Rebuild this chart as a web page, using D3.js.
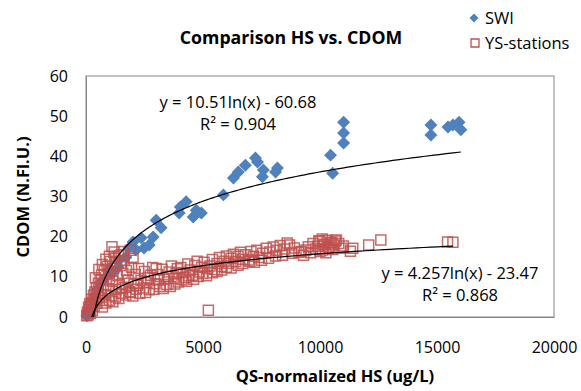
<!DOCTYPE html>
<html>
<head>
<meta charset="utf-8">
<script src="https://cdn.jsdelivr.net/npm/d3@7"></script>
<style>
  body { margin: 0; background: #fff; }
  text { font-family: "Open Sans", sans-serif; fill: #000; }
</style>
</head>
<body>
<div id="app"></div>
<script>
const width = 581
const height = 391

// SWI samples [HS, CDOM]
const swiPoints = [
  [40, 0.3], [100, 1], [200, 2], [300, 4], [400, 5.5], [500, 7], [600, 8.5],
  [730, 9.2], [860, 10], [1000, 12], [1160, 11], [1370, 12.4], [1410, 14.2],
  [1710, 14.9], [1840, 17.2], [2010, 18.7], [2140, 16.7], [2360, 19.7],
  [2480, 17.2], [2700, 17.9], [2870, 19.9], [3000, 24.1], [3210, 22.2],
  [3980, 25.9], [4030, 27.4], [4280, 28.7], [4580, 24.9], [4710, 26.6],
  [4930, 25.9], [5870, 30.4], [6300, 34.6], [6510, 36.1], [6810, 37.8],
  [7240, 39.6], [7330, 38.6], [7540, 34.9], [7580, 36.6], [8100, 36.1],
  [8180, 37.1], [10450, 40.3], [10540, 35.8], [11010, 48.5], [11010, 45.8],
  [11010, 43.3], [14740, 47.8], [14740, 45.3], [15470, 47.3], [15680, 47.8],
  [15940, 48.5], [16020, 46.6]
]

// YS-stations samples [HS, CDOM]
const ysPoints = [
  [30, 0.3], [60, 1.2], [90, 0.5], [110, 2.4], [140, 1.8], [160, 3.3], [190, 0.9],
  [210, 2.8], [240, 4.4], [270, 1.6], [290, 3.6], [320, 5.4], [350, 2.6], [380, 6.2],
  [400, 9.8], [410, 4.2], [440, 7.3], [470, 3.4], [500, 5.8], [530, 8.4], [550, 11.8],
  [560, 4.8], [600, 9.2], [630, 6.6], [670, 10.4], [700, 4.1], [700, 2.5], [700, 13.1],
  [740, 7.8], [780, 11.5], [820, 5.6], [850, 3.5], [850, 14.4], [860, 9.3],
  [900, 12.6], [950, 7.1], [990, 10.7], [1000, 4.2], [1000, 15.1], [1040, 13.8],
  [1080, 5.3], [1110, 17.5], [1130, 8.9], [1150, 3.8], [1180, 12.1], [1200, 16.2],
  [1230, 14.6], [1250, 5], [1280, 6.8], [1300, 13.5], [1330, 10.3], [1380, 15.2],
  [1400, 4.6], [1430, 8.1], [1480, 12.8], [1500, 15.5], [1530, 5.9], [1550, 7.2],
  [1580, 10.9], [1600, 16.3], [1630, 14.1], [1680, 7.4], [1700, 5.5], [1730, 11.6],
  [1800, 9.2], [1850, 6.3], [1890, 16.6], [1900, 6.1], [1950, 12.4], [2000, 5.2],
  [2010, 14.6], [2050, 8.4], [2100, 10.6], [2150, 6.9], [2200, 7.9], [2250, 12.1],
  [2300, 5.9], [2350, 9.1], [2450, 7.2], [2500, 11.3], [2550, 6.1], [2600, 8.6],
  [2650, 9.7], [2700, 6.8], [2750, 10.4], [2850, 12.3], [2900, 6.9], [2950, 8.3],
  [3000, 12.1], [3050, 10.6], [3100, 9.2], [3150, 7.6], [3250, 11.9], [3300, 7.1],
  [3350, 9.4], [3450, 8.1], [3500, 10.1], [3550, 11.2], [3600, 7.6], [3650, 12.7],
  [3750, 9.6], [3800, 8.2], [3850, 10.9], [3900, 12], [3950, 8.7], [4050, 12.3],
  [4100, 9.3], [4150, 11.1], [4250, 9.8], [4300, 8.9], [4350, 13.2], [4400, 10.2],
  [4450, 11.7], [4550, 10.4], [4600, 9.4], [4650, 12.8], [4750, 13.9], [4800, 10.1],
  [4850, 11.2], [4950, 12.4], [5000, 10.8], [5050, 13.6], [5150, 10.3], [5200, 12.1],
  [5230, 1.7], [5300, 12.7], [5400, 14.3], [5400, 11], [5500, 11.8], [5600, 13.3],
  [5600, 11.3], [5700, 14.8], [5800, 12.6], [5800, 11.7], [5900, 13.9], [6000, 15.2],
  [6000, 12.4], [6100, 13.4], [6200, 14.6], [6200, 12.2], [6300, 15.6], [6400, 13.8],
  [6500, 15.1], [6500, 12.9], [6600, 16.1], [6700, 14.4], [6700, 13.3], [6800, 15.5],
  [6950, 14.2], [7000, 13.8], [7050, 16.3], [7150, 15.1], [7200, 13.6], [7300, 16.6],
  [7400, 14.8], [7500, 14.1], [7550, 15.9], [7700, 17.1], [7800, 14.6], [7850, 16.2],
  [8000, 17.4], [8100, 15.2], [8150, 16.6], [8300, 17.8], [8400, 15.4], [8500, 16.9],
  [8600, 18.4], [8700, 17.9], [8800, 15.9], [8900, 17.2], [9100, 16.1], [9200, 16.3],
  [9300, 15.4], [9400, 16.7], [9500, 17.5], [9600, 16], [9700, 18.3], [9800, 16.9],
  [9900, 17.6], [9950, 19], [10000, 18.8], [10000, 16.3], [10100, 16.7], [10100, 19.4],
  [10150, 17.9], [10200, 18.1], [10250, 16], [10300, 19.1], [10350, 17.2],
  [10400, 17.4], [10450, 18.4], [10500, 18.6], [10550, 16.8], [10600, 17.9],
  [10650, 18.9], [10700, 19.2], [10800, 18.3], [10900, 17.1], [11000, 17.7],
  [11300, 16.4], [11400, 17.1], [12080, 17.9], [12600, 19.2], [15450, 18.7],
  [15680, 18.6]
]

// log trendlines: y = a ln(x) + b
const swiFit = {a: 10.51, b: -60.68, label: 'y = 10.51ln(x) - 60.68', r2: 'R² = 0.904'}
const ysFit = {a: 4.257, b: -23.47, label: 'y = 4.257ln(x) - 23.47', r2: 'R² = 0.868'}

const xTicks = [0, 5000, 10000, 15000, 20000]
const yTicks = [0, 10, 20, 30, 40, 50, 60]
const seriesNames = ['SWI', 'YS-stations']

const blue = '#4f81bd'
const red = '#c0504d'
const axisGrey = '#868686'

const plot = {left: 86, right: 554, top: 76, bottom: 317}

const x = d3.scaleLinear().domain([0, 20000]).range([plot.left, plot.right])
const y = d3.scaleLinear().domain([0, 60]).range([plot.bottom, plot.top])

const svg = d3.select('#app').append('svg')
  .attr('width', width)
  .attr('height', height)

svg.append('defs').append('clipPath').attr('id', 'plotClip')
  .append('rect')
  .attr('x', plot.left).attr('y', plot.top)
  .attr('width', plot.right - plot.left).attr('height', plot.bottom - plot.top)

// plot area frame
svg.append('rect')
  .attr('x', plot.left).attr('y', plot.top)
  .attr('width', plot.right - plot.left).attr('height', plot.bottom - plot.top)
  .attr('fill', 'none').attr('stroke', axisGrey).attr('stroke-width', 1)

const xAxis = svg.append('g')
  .attr('transform', `translate(0,${plot.bottom})`)
  .call(d3.axisBottom(x).tickValues(xTicks).tickSize(0).tickPadding(25).tickFormat(d3.format('d')))
const yAxis = svg.append('g')
  .attr('transform', `translate(${plot.left},0)`)
  .call(d3.axisLeft(y).tickValues(yTicks).tickSize(0).tickPadding(18))
for (const g of [xAxis, yAxis]) {
  g.select('.domain').attr('stroke', axisGrey)
  g.selectAll('text').attr('font-size', 16).attr('font-family', '"Open Sans", sans-serif').attr('fill', '#000')
}

// markers
const diamond = d3.symbol().type(d3.symbolSquare).size(84)
const square = d3.symbol().type(d3.symbolSquare).size(100)

svg.append('g').selectAll('path')
  .data(swiPoints)
  .join('path')
  .attr('d', diamond)
  .attr('transform', (d) => `translate(${x(d[0])},${y(d[1])}) rotate(45)`)
  .attr('fill', blue)

svg.append('g').selectAll('path')
  .data(ysPoints)
  .join('path')
  .attr('d', square)
  .attr('transform', (d) => `translate(${x(d[0])},${y(d[1])})`)
  .attr('fill', 'none')
  .attr('stroke', red)
  .attr('stroke-width', 1.5)
  .attr('stroke-opacity', 0.85)

// trendlines
const line = d3.line().x((d) => x(d[0])).y((d) => y(d[1]))
const trend = (pts, fit) => {
  const [x0, x1] = d3.extent(pts, (d) => d[0])
  return d3.range(0, 301).map((i) => {
    const v = x0 * Math.pow(x1 / x0, i / 300)
    return [v, fit.a * Math.log(v) + fit.b]
  })
}
const trends = svg.append('g').attr('clip-path', 'url(#plotClip)')
for (const [pts, fit] of [[swiPoints, swiFit], [ysPoints, ysFit]]) {
  trends.append('path')
    .attr('d', line(trend(pts, fit)))
    .attr('fill', 'none')
    .attr('stroke', '#000')
    .attr('stroke-width', 1.2)
}

// equation labels
const eq = [[swiFit, 238, 108], [ysFit, 460, 279]]
for (const [fit, cx, cy] of eq) {
  svg.append('text').attr('x', cx).attr('y', cy).attr('text-anchor', 'middle')
    .attr('font-size', 16.5).text(fit.label)
  svg.append('text').attr('x', cx).attr('y', cy + 22).attr('text-anchor', 'middle')
    .attr('font-size', 16.5).text(fit.r2)
}

// titles
svg.append('text').attr('x', 291).attr('y', 44).attr('text-anchor', 'middle')
  .attr('font-size', 17.7).attr('font-weight', 'bold').text('Comparison HS vs. CDOM')
svg.append('text').attr('x', 335).attr('y', 382).attr('text-anchor', 'middle')
  .attr('font-size', 16.5).attr('font-weight', 'bold').text('QS-normalized HS (ug/L)')
svg.append('text')
  .attr('transform', 'translate(29,197) rotate(-90)')
  .attr('text-anchor', 'middle')
  .attr('font-size', 16.5).attr('font-weight', 'bold').text('CDOM (N.Fl.U.)')

// legend
const legend = svg.append('g')
legend.append('path')
  .attr('d', d3.symbol().type(d3.symbolSquare).size(40))
  .attr('transform', 'translate(474,18) rotate(45)')
  .attr('fill', blue)
legend.append('path')
  .attr('d', d3.symbol().type(d3.symbolSquare).size(64))
  .attr('transform', 'translate(475,43)')
  .attr('fill', 'none').attr('stroke', red).attr('stroke-width', 1.3)
seriesNames.forEach((name, i) => {
  legend.append('text').attr('x', 485).attr('y', 24 + i * 25)
    .attr('font-size', 16.5).text(name)
})
</script>
</body>
</html>
